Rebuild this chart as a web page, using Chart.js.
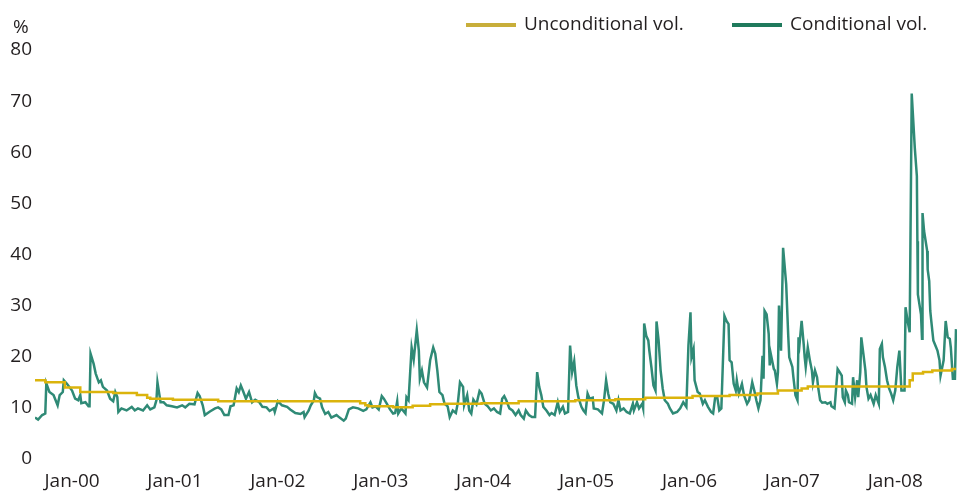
<!DOCTYPE html>
<html>
<head>
<meta charset="utf-8">
<script src="https://cdn.jsdelivr.net/npm/chart.js@4.4.1/dist/chart.umd.min.js"></script>
<style>
  html, body { margin: 0; padding: 0; background: #ffffff; }
  #wrap { width: 957px; height: 492px; position: relative; }
</style>
</head>
<body>
<div id="wrap"><canvas id="chartVol"></canvas></div>
<script>
// ─── Datos ────────────────────────────────────────────
var yTicks = [0, 10, 20, 30, 40, 50, 60, 70, 80];
var xTickYears = [2000, 2001, 2002, 2003, 2004, 2005, 2006, 2007, 2008];
var xTickLabels = ['Jan-00', 'Jan-01', 'Jan-02', 'Jan-03', 'Jan-04', 'Jan-05', 'Jan-06', 'Jan-07', 'Jan-08'];
var seriesNames = ['Unconditional vol.', 'Conditional vol.'];

// Conditional vol. (fecha en años decimales, %)
var condT = [
  1999.64, 1999.67, 1999.71, 1999.74, 1999.75, 1999.78, 1999.82, 1999.86, 1999.88, 1999.91,
  1999.92, 1999.95, 2000.00, 2000.03, 2000.06, 2000.08, 2000.09, 2000.13, 2000.16, 2000.17,
  2000.18, 2000.21, 2000.23, 2000.26, 2000.28, 2000.30, 2000.34, 2000.37, 2000.40, 2000.42,
  2000.44, 2000.45, 2000.48, 2000.53, 2000.58, 2000.61, 2000.64, 2000.69, 2000.73, 2000.76,
  2000.80, 2000.82, 2000.83, 2000.86, 2000.89, 2000.92, 2000.97, 2001.02, 2001.07, 2001.10,
  2001.14, 2001.19, 2001.22, 2001.24, 2001.27, 2001.29, 2001.34, 2001.39, 2001.42, 2001.45,
  2001.48, 2001.52, 2001.54, 2001.57, 2001.60, 2001.62, 2001.64, 2001.66, 2001.69, 2001.72,
  2001.75, 2001.78, 2001.82, 2001.85, 2001.89, 2001.92, 2001.96, 2001.97, 2002.00, 2002.04,
  2002.09, 2002.12, 2002.17, 2002.22, 2002.25, 2002.26, 2002.30, 2002.32, 2002.35, 2002.36,
  2002.38, 2002.41, 2002.43, 2002.46, 2002.49, 2002.52, 2002.57, 2002.60, 2002.64, 2002.66,
  2002.69, 2002.73, 2002.78, 2002.83, 2002.86, 2002.90, 2002.92, 2002.95, 2002.98, 2003.01,
  2003.03, 2003.06, 2003.09, 2003.12, 2003.14, 2003.16, 2003.17, 2003.20, 2003.24, 2003.25,
  2003.27, 2003.30, 2003.32, 2003.35, 2003.37, 2003.38, 2003.40, 2003.42, 2003.45, 2003.48,
  2003.51, 2003.53, 2003.55, 2003.57, 2003.60, 2003.62, 2003.65, 2003.67, 2003.70, 2003.73,
  2003.75, 2003.77, 2003.80, 2003.81, 2003.84, 2003.86, 2003.88, 2003.90, 2003.93, 2003.96,
  2003.98, 2004.01, 2004.04, 2004.07, 2004.10, 2004.13, 2004.16, 2004.18, 2004.20, 2004.22,
  2004.25, 2004.28, 2004.31, 2004.34, 2004.36, 2004.39, 2004.41, 2004.44, 2004.47, 2004.50,
  2004.52, 2004.54, 2004.56, 2004.58, 2004.61, 2004.64, 2004.66, 2004.69, 2004.72, 2004.74,
  2004.77, 2004.79, 2004.82, 2004.84, 2004.86, 2004.88, 2004.90, 2004.92, 2004.95, 2004.97,
  2004.99, 2005.01, 2005.03, 2005.06, 2005.07, 2005.11, 2005.15, 2005.17, 2005.19, 2005.21,
  2005.23, 2005.26, 2005.29, 2005.31, 2005.33, 2005.36, 2005.39, 2005.42, 2005.45, 2005.46,
  2005.49, 2005.51, 2005.54, 2005.55, 2005.56, 2005.58, 2005.60, 2005.61, 2005.63, 2005.65,
  2005.67, 2005.68, 2005.70, 2005.72, 2005.74, 2005.76, 2005.79, 2005.81, 2005.84, 2005.88,
  2005.91, 2005.94, 2005.97, 2005.99, 2006.01, 2006.02, 2006.04, 2006.05, 2006.08, 2006.10,
  2006.13, 2006.15, 2006.18, 2006.21, 2006.23, 2006.25, 2006.27, 2006.29, 2006.31, 2006.34,
  2006.36, 2006.38, 2006.39, 2006.41, 2006.43, 2006.45, 2006.46, 2006.48, 2006.51, 2006.53,
  2006.56, 2006.58, 2006.61, 2006.63, 2006.65, 2006.67, 2006.69, 2006.71, 2006.72, 2006.73,
  2006.75, 2006.77, 2006.78, 2006.79, 2006.82, 2006.83, 2006.85, 2006.86, 2006.87, 2006.89,
  2006.91, 2006.94, 2006.96, 2006.97, 2007.00, 2007.01, 2007.03, 2007.05, 2007.06, 2007.07,
  2007.09, 2007.11, 2007.12, 2007.13, 2007.15, 2007.17, 2007.19, 2007.20, 2007.22, 2007.24,
  2007.25, 2007.27, 2007.29, 2007.32, 2007.34, 2007.37, 2007.38, 2007.41, 2007.44, 2007.46,
  2007.48, 2007.49, 2007.51, 2007.52, 2007.54, 2007.55, 2007.58, 2007.59, 2007.61, 2007.63,
  2007.64, 2007.66, 2007.67, 2007.69, 2007.71, 2007.72, 2007.74, 2007.76, 2007.79, 2007.81,
  2007.84, 2007.85, 2007.87, 2007.88, 2007.90, 2007.92, 2007.94, 2007.96, 2007.98, 2008.00,
  2008.02, 2008.04, 2008.06, 2008.09, 2008.10, 2008.12, 2008.14, 2008.16, 2008.19, 2008.21,
  2008.215, 2008.22, 2008.25, 2008.26, 2008.265, 2008.28, 2008.31, 2008.315, 2008.33, 2008.34,
  2008.35, 2008.37, 2008.39, 2008.41, 2008.43, 2008.44, 2008.47, 2008.49, 2008.51, 2008.53,
  2008.54, 2008.56, 2008.58, 2008.59
];
var condV = [
  8.1, 7.7, 8.6, 8.9, 14.8, 13.1, 12.5, 10.5, 12.5, 13.1,
  15.4, 14.7, 13.4, 11.8, 11.5, 12.5, 10.9, 11.1, 10.3, 10.3,
  20.6, 18.6, 16.7, 15.0, 15.4, 14.1, 13.4, 11.8, 11.3, 13.1,
  12.1, 9.2, 9.9, 9.5, 10.2, 9.5, 9.9, 9.5, 10.5, 9.7,
  10.1, 11.5, 15.0, 11.1, 11.1, 10.5, 10.3, 10.1, 10.5, 10.1,
  10.8, 10.7, 12.9, 12.3, 10.5, 8.6, 9.3, 9.9, 10.1, 9.7,
  8.6, 8.6, 10.3, 10.5, 13.8, 13.1, 14.4, 13.4, 11.8, 13.1,
  11.1, 11.6, 11.1, 10.2, 10.1, 9.4, 9.9, 9.2, 11.3, 10.5,
  10.2, 9.7, 9.0, 8.8, 9.2, 8.2, 9.5, 10.5, 11.5, 12.9,
  12.1, 11.8, 10.1, 8.8, 9.2, 8.1, 8.6, 8.1, 7.5, 7.9,
  9.7, 10.1, 9.9, 9.4, 9.7, 11.1, 10.1, 10.3, 9.7, 12.3,
  11.8, 10.8, 9.7, 8.9, 9.0, 11.3, 8.9, 9.9, 8.9, 12.1,
  11.5, 21.8, 19.4, 25.2, 21.2, 15.7, 17.3, 15.0, 14.0, 19.3,
  21.8, 20.6, 17.3, 13.1, 12.5, 10.8, 10.3, 8.2, 9.5, 9.0,
  11.1, 15.0, 14.1, 10.5, 12.5, 9.5, 8.9, 11.6, 10.7, 13.3,
  12.8, 10.8, 10.3, 9.5, 9.9, 9.2, 8.9, 11.8, 12.3, 11.5,
  9.9, 9.5, 8.6, 9.5, 8.6, 7.9, 9.5, 8.6, 8.2, 8.2,
  17.0, 14.1, 12.5, 10.2, 9.5, 8.6, 9.0, 8.6, 11.1, 9.2,
  10.2, 8.9, 9.2, 22.2, 17.0, 19.1, 14.4, 12.1, 10.2, 9.5,
  9.0, 12.8, 11.8, 12.0, 9.9, 9.7, 8.9, 11.5, 15.4, 12.8,
  11.1, 10.8, 9.5, 11.5, 9.5, 9.9, 9.2, 8.9, 10.8, 9.5,
  11.1, 9.9, 10.8, 9.9, 26.5, 24.1, 23.2, 21.2, 18.0, 14.4,
  13.4, 26.9, 23.2, 17.3, 13.8, 11.5, 10.8, 9.9, 8.9, 9.2,
  9.9, 11.1, 10.2, 22.2, 28.7, 19.9, 21.5, 15.4, 13.1, 12.8,
  10.8, 11.5, 10.2, 9.2, 8.9, 12.1, 12.1, 9.5, 9.9, 28.0,
  27.0, 26.4, 19.3, 18.9, 14.7, 13.4, 15.4, 12.8, 14.7, 12.5,
  10.8, 11.5, 15.0, 13.4, 11.5, 9.9, 11.5, 20.2, 15.7, 29.0,
  28.3, 24.5, 18.3, 20.6, 17.6, 17.3, 14.7, 17.0, 30.0, 21.2,
  41.3, 34.2, 24.1, 19.9, 18.0, 16.0, 12.5, 11.5, 23.8, 22.5,
  27.0, 22.5, 19.9, 18.0, 21.8, 19.3, 17.3, 15.0, 17.3, 16.0,
  14.1, 11.5, 11.0, 11.1, 10.8, 11.1, 10.3, 9.9, 17.6, 17.0,
  16.3, 12.1, 11.1, 13.4, 12.5, 11.1, 10.8, 16.0, 12.1, 15.4,
  12.1, 17.0, 23.8, 20.6, 17.3, 14.1, 11.8, 12.5, 10.8, 12.5,
  10.8, 21.5, 22.5, 19.9, 18.0, 15.4, 13.8, 12.8, 11.5, 13.4,
  18.0, 21.2, 13.4, 13.4, 29.7, 27.0, 24.8, 71.5, 60.8, 55.3,
  42.6, 32.2, 28.3, 23.5, 48.1, 44.6, 40.7, 37.1, 34.8, 29.0,
  27.0, 23.2, 22.2, 21.2, 19.3, 16.3, 19.3, 27.0, 23.8, 23.5,
  21.8, 15.7, 15.7, 25.4
];

// Unconditional vol. (escalones)
var uncondT = [
  1999.64, 1999.74, 1999.93, 2000.08, 2000.40, 2000.63, 2000.73, 2000.76, 2000.98, 2001.42,
  2002.80, 2002.85, 2002.88, 2003.12, 2003.31, 2003.48, 2003.62, 2003.98, 2004.34, 2004.89,
  2005.28, 2005.57, 2006.03, 2006.39, 2006.66, 2006.86, 2007.09, 2007.15, 2008.14, 2008.17,
  2008.27, 2008.36, 2008.55, 2008.59
];
var uncondV = [
  15.4, 15.0, 14.0, 13.1, 12.9, 12.5, 12.0, 11.8, 11.6, 11.3,
  10.9, 10.5, 10.3, 10.1, 10.4, 10.7, 10.8, 10.9, 11.3, 11.5,
  11.7, 12.0, 12.3, 12.5, 12.8, 13.4, 13.8, 14.2, 15.4, 16.7,
  17.0, 17.3, 17.6, 17.6
];

function toPoints(t, v) {
  return t.map(function (x, i) { return { x: x, y: v[i] }; });
}

var FONT = '"Open Sans", "Noto Sans", sans-serif';
var TEXT = '#231f20';

// ─── Leyenda y unidad (dibujadas a mano) ─────────────
var decoPlugin = {
  id: 'deco',
  afterDraw: function (chart) {
    var ctx = chart.ctx;
    ctx.save();
    ctx.font = '19px ' + FONT;
    ctx.fillStyle = TEXT;
    ctx.textBaseline = 'middle';
    ctx.textAlign = 'left';
    ctx.fillText('%', 13, 28);

    var items = [
      { x: 466, color: '#c8ae3a', text: seriesNames[0] },
      { x: 732, color: '#1f7a5c', text: seriesNames[1] }
    ];
    for (var i = 0; i < items.length; i++) {
      ctx.strokeStyle = items[i].color;
      ctx.lineWidth = 4;
      ctx.beginPath();
      ctx.moveTo(items[i].x, 25);
      ctx.lineTo(items[i].x + 50, 25);
      ctx.stroke();
      ctx.fillText(items[i].text, items[i].x + 58, 25);
    }
    ctx.restore();
  }
};

new Chart(document.getElementById('chartVol'), {
  type: 'line',
  data: {
    datasets: [{
      label: seriesNames[0],
      data: toPoints(uncondT, uncondV),
      borderColor: '#dbb40c',
      borderWidth: 2.5,
      stepped: true,
      pointRadius: 0,
      fill: false
    }, {
      label: seriesNames[1],
      data: toPoints(condT, condV),
      borderColor: '#2f8a76',
      borderWidth: 2.5,
      tension: 0,
      pointRadius: 0,
      fill: false
    }]
  },
  options: {
    responsive: true,
    maintainAspectRatio: false,
    animation: false,
    layout: { padding: { top: 50, right: 0, left: 0, bottom: 0 } },
    plugins: {
      legend: { display: false },
      tooltip: { enabled: false }
    },
    scales: {
      x: {
        type: 'linear',
        min: 1999.64,
        max: 2008.60,
        grid: { display: false, drawTicks: false },
        border: { display: false },
        afterBuildTicks: function (scale) {
          scale.ticks = xTickYears.map(function (v) { return { value: v }; });
        },
        afterFit: function (scale) { scale.height = 33; },
        ticks: {
          autoSkip: false,
          maxRotation: 0,
          padding: 11,
          color: TEXT,
          font: { family: FONT, size: 19 },
          callback: function (value) {
            var i = xTickYears.indexOf(value);
            return i >= 0 ? xTickLabels[i] : '';
          }
        }
      },
      y: {
        min: 0,
        max: 80,
        grid: { display: false, drawTicks: false },
        border: { display: false },
        afterBuildTicks: function (scale) {
          scale.ticks = yTicks.map(function (v) { return { value: v }; });
        },
        afterFit: function (scale) { scale.width = 35; },
        ticks: {
          padding: 3,
          color: TEXT,
          font: { family: FONT, size: 19 }
        }
      }
    }
  },
  plugins: [decoPlugin]
});
</script>
</body>
</html>
